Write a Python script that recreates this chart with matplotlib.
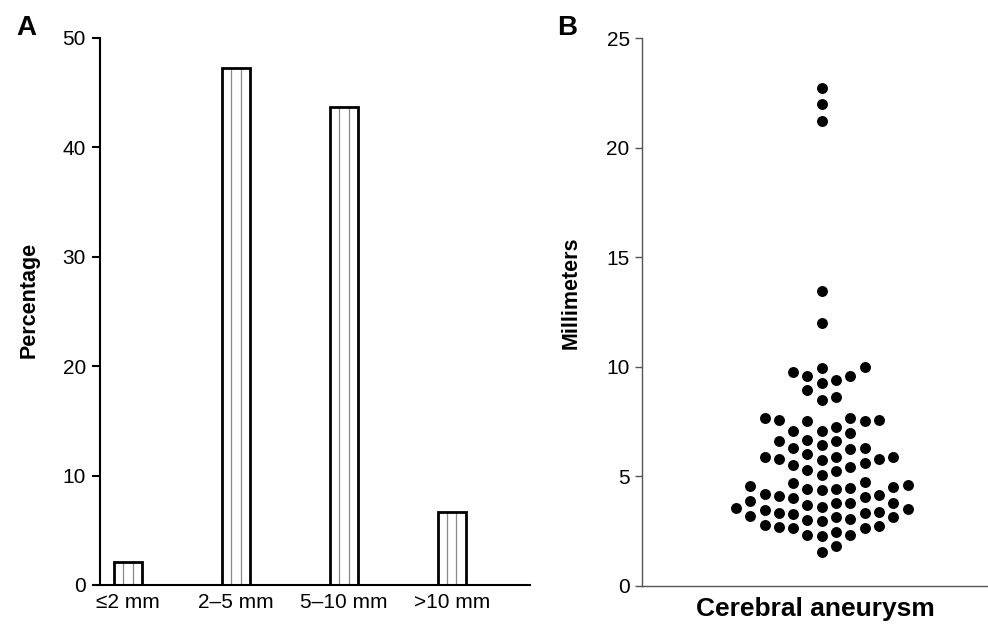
import numpy as np
import matplotlib
matplotlib.use('Agg')
import matplotlib.pyplot as plt

plt.rcParams['font.family'] = ['Liberation Sans', 'DejaVu Sans']

# Panel A: size distribution
categories = ['≤2 mm', '2–5 mm', '5–10 mm', '>10 mm']
percentages = [2.1, 47.2, 43.7, 6.7]

# Panel B: aneurysm sizes (mm)
sizes_mm = [
    22.7, 22.0, 21.2, 13.47, 11.98,
    10.0, 9.95, 9.76, 9.6, 9.6, 9.41, 9.25, 8.96, 8.64, 8.49,
    7.65, 7.65, 7.57, 7.57, 7.53, 7.53, 7.24, 7.07, 7.07, 7.0,
    6.66, 6.61, 6.61, 6.43, 6.28, 6.28, 6.24,
    6.02, 5.90, 5.90, 5.90, 5.78, 5.78, 5.75, 5.63, 5.52, 5.41,
    5.29, 5.25, 5.06,
    4.76, 4.68, 4.61, 4.55, 4.50, 4.46, 4.41, 4.41, 4.38, 4.20, 4.15,
    4.11, 4.05, 4.0, 3.87, 3.80, 3.77, 3.77, 3.70,
    3.62, 3.54, 3.50, 3.47, 3.39, 3.34, 3.32, 3.28, 3.19, 3.16, 3.13,
    3.04, 3.01, 2.98,
    2.78, 2.74, 2.68, 2.63, 2.63, 2.48, 2.33, 2.33, 2.28,
    1.82, 1.56,
]


def column_offsets(values, min_gap):
    # place points (lowest first) in the nearest free column: 0, +1, -1, +2, ...
    order = np.argsort(values)
    placed = {}
    offsets = np.zeros(len(values))
    for i in order:
        v = values[i]
        k = 0
        while True:
            col = (k + 1) // 2 if k % 2 else -(k // 2)
            if all(abs(v - u) >= min_gap for u in placed.get(col, [])):
                placed.setdefault(col, []).append(v)
                offsets[i] = col
                break
            k += 1
    return offsets


fig = plt.figure(figsize=(9.88, 6.24), dpi=100)

# ---- A ----
ax1 = fig.add_axes([0.101, 0.0625, 0.435, 0.877])
x = np.arange(len(categories))
w = 0.26
ax1.bar(x, percentages, width=w, color='white', linewidth=0, zorder=2)
for xi, p in zip(x, percentages):
    ax1.vlines([xi - w / 6, xi + w / 6], 0, p, color='#888888', linewidth=0.9, zorder=3)
ax1.bar(x, percentages, width=w, fill=False, edgecolor='black', linewidth=2.0, zorder=4)
ax1.set_xlim(-0.26, 3.72)
ax1.set_ylim(0, 50)
ax1.set_yticks([0, 10, 20, 30, 40, 50])
ax1.set_xticks(x)
ax1.set_xticklabels(categories)
ax1.tick_params(axis='x', length=0, labelsize=15, pad=6)
ax1.tick_params(axis='y', length=6, width=1.5, labelsize=15, pad=4)
for s in ['top', 'right']:
    ax1.spines[s].set_visible(False)
for s in ['left', 'bottom']:
    ax1.spines[s].set_linewidth(1.5)
    ax1.spines[s].set_zorder(5)
ax1.set_ylabel('Percentage', fontsize=15.5, fontweight='bold')
ax1.yaxis.set_label_coords(-0.139, 0.52)

# ---- B ----
ax2 = fig.add_axes([0.650, 0.061, 0.35, 0.878])
vals = np.array(sizes_mm)
offs = column_offsets(vals, 0.62)
ax2.scatter(offs, vals, s=62, color='black', linewidths=0, zorder=3)
ax2.set_xlim(-12.56, 11.63)
ax2.set_ylim(0, 25)
ax2.set_yticks([0, 5, 10, 15, 20, 25])
ax2.set_xticks([])
ax2.tick_params(axis='y', length=5, width=1, color='#555555', labelsize=15, pad=4)
for s in ['top', 'right']:
    ax2.spines[s].set_visible(False)
for s in ['left', 'bottom']:
    ax2.spines[s].set_linewidth(1.0)
    ax2.spines[s].set_color('#555555')
ax2.set_ylabel('Millimeters', fontsize=15.5, fontweight='bold')
ax2.yaxis.set_label_coords(-0.176, 0.535)
ax2.set_xlabel('Cerebral aneurysm', fontsize=19, fontweight='bold')
ax2.xaxis.set_label_coords(0.50, -0.02)

fig.text(0.027, 0.955, 'A', fontsize=20, fontweight='bold', ha='center', va='center')
fig.text(0.574, 0.955, 'B', fontsize=20, fontweight='bold', ha='center', va='center')

fig.savefig('out.png', dpi=100)
